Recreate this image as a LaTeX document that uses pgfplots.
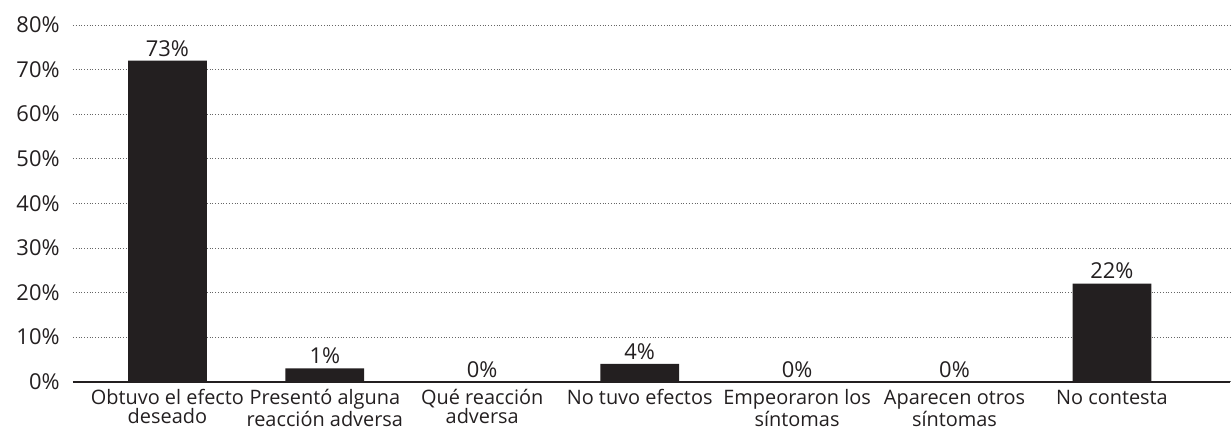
\documentclass[border=0pt]{standalone}
\usepackage{fontspec}
\setmainfont{Open Sans}
\usepackage{pgfplots}
\pgfplotsset{compat=1.18}
\definecolor{barblack}{RGB}{35,31,32}
\definecolor{txtgray}{RGB}{35,31,32}
\newcommand{\fl}{\rule{0pt}{10bp}}
\begin{document}
\begin{tikzpicture}
\begin{axis}[
  scale only axis,
  width=579bp, height=178.5bp,
  ymin=0, ymax=80, xmin=-0.6, xmax=6.75,
  ytick={0,10,...,80},
  yticklabel={\pgfmathprintnumber{\tick}\%},
  /pgf/number format/assume math mode=true,
  xtick={0,...,6},
  xticklabels={{\fl Obtuvo el efecto\\deseado},{\fl Presentó alguna\\reacción adversa},{\fl Qué reacción\\adversa},{\fl No tuvo efectos},{\fl Empeoraron los\\síntomas},{\fl Aparecen otros\\síntomas},{\fl No contesta}},
  xticklabel style={align=center, font=\fontsize{10}{9.6}\selectfont, text=txtgray, inner sep=0pt, anchor=north, yshift=-1.3bp},
  yticklabel style={font=\fontsize{11}{12}\selectfont, text=txtgray, inner sep=0pt, anchor=east, xshift=-6.5bp},
  major tick length=0pt,
  axis x line*=bottom, axis y line*=left,
  x axis line style={draw=barblack, line width=1bp, -},
  y axis line style={draw=none},
  ymajorgrids,
  grid style={densely dotted, black!60, line width=0.4bp},
  ybar, bar width=0.5,
  nodes near coords,
  point meta=explicit symbolic,
  every node near coord/.append style={font=\fontsize{11}{12}\selectfont, text=txtgray, inner sep=2bp},
]
\addplot[fill=barblack, draw=none] coordinates {
  (0,72) [73\%]
  (1,3) [1\%]
  (2,0) [0\%]
  (3,4) [4\%]
  (4,0) [0\%]
  (5,0) [0\%]
  (6,22) [22\%]
};
\end{axis}
\path (current axis.south west) ++(-36.5bp,-24bp) rectangle ([yshift=12.5bp]current axis.north east);
\end{tikzpicture}
\end{document}
